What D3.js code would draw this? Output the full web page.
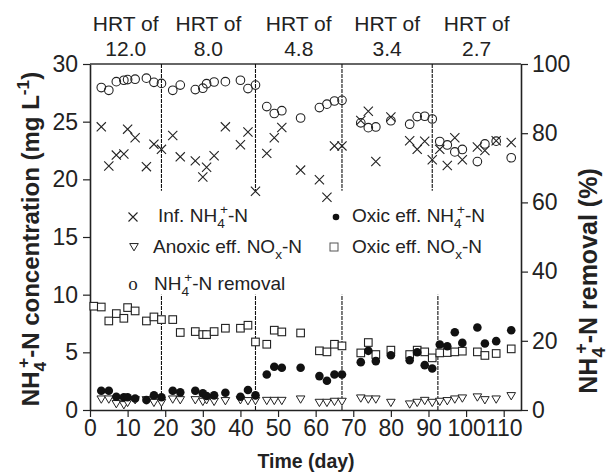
<!DOCTYPE html>
<html>
<head>
<meta charset="utf-8">
<script src="https://cdn.jsdelivr.net/npm/d3@7"></script>
<style>
  body { margin: 0; background: #fff; }
  svg { font-family: "Liberation Sans", Arial, sans-serif; }
  .axis path, .axis line { stroke: #222; }
  .axis text { fill: #222; }
</style>
</head>
<body>
<svg id="chart" width="608" height="473"></svg>
<script>
// sampling days (same for most series)
const days = [3, 5, 7, 9, 10, 12, 15, 17, 19, 22, 24, 28, 30, 31, 33, 36, 40, 42, 44,
  47, 49, 51, 56, 61, 63, 65, 67, 72, 74, 76, 80, 85, 87, 89, 91,
  93, 95, 97, 99, 103, 105, 108, 112];
const squareDays = [1].concat(days);

// left axis, mg/L
const infNH4 = [24.55, 21.15, 22.1, 22.2, 24.35, 23.6, 21.1, 23.05, 22.6, 23.8, 21.95, 21.6, 20.2, 21.05, 22.05, 24.55, 23.0, 24.1, 18.96,
  22.25, 23.6, 24.5, 20.8, 19.97, 18.45, 22.9, 22.9, 25.1, 25.9, 21.55, 25.4, 23.35, 22.6, 23.3, 21.7,
  22.6, 21.2, 23.6, 21.7, 22.8, 22.5, 23.35, 23.2];
const oxicNOx = [9.0, 8.93, 7.72, 8.36, 7.95, 8.88, 8.59, 7.72, 8.07, 7.84, 7.84, 6.72, 6.8, 6.54, 6.54, 6.8, 7.09, 7.09, 7.35, 5.9,
  5.7, 6.92, 6.77, 6.68, 5.13, 5.04, 5.7, 5.56, 4.95, 5.85, 4.81, 5.19, 4.81, 5.19, 5.04, 4.52,
  4.95, 4.98, 5.04, 5.1, 5.04, 4.73, 4.9, 5.3];
const oxicNH4 = [1.67, 1.67, 1.15, 1.1, 1.1, 1.0, 0.86, 1.27, 1.1, 1.67, 1.53, 1.67, 1.44, 1.21, 1.27, 1.5, 1.15, 1.73, 1.27,
  3.08, 3.75, 3.66, 3.66, 2.94, 2.53, 3.08, 3.08, 4.15, 5.13, 4.24, 4.75, 4.32, 5.01, 3.89, 3.6,
  5.68, 5.53, 6.74, 5.82, 7.15, 5.77, 5.97, 6.92];
const anoxicNOx = [0.92, 0.92, 0.52, 0.43, 0.63, 0.86, 0.86, 0.63, 0.63, 0.92, 0.86, 0.86, 0.72, 0.86, 0.72, 0.78, 0.86, 0.78, 0.8,
  0.8, 0.8, 0.8, 0.92, 0.63, 0.63, 0.72, 0.72, 1.01, 0.92, 0.92, 0.63, 0.49, 0.63, 0.8, 0.63,
  0.72, 0.78, 0.92, 1.01, 1.1, 0.86, 0.92, 1.21];
// right axis, %
const removal = [93.2, 92.4, 94.9, 95.3, 95.5, 95.6, 95.9, 94.7, 94.4, 92.4, 93.9, 92.6, 93.0, 94.3, 94.8, 94.9, 95.3, 92.9, 93.9,
  87.7, 85.7, 86.5, 84.4, 87.4, 88.4, 89.3, 89.5, 83.0, 81.6, 81.8, 83.6, 82.6, 84.8, 84.9, 84.1,
  77.6, 76.6, 74.6, 75.3, 71.8, 76.9, 77.7, 72.9];

// HRT phases
const hrtLabels = ["12.0", "8.0", "4.8", "3.4", "2.7"];
const upperBounds = [19, 44, 67, 91];   // dividers above the legend
const lowerBounds = [19, 44, 67, 92.5]; // dividers below the legend

const xTicks = d3.range(0, 111, 10);
const yTicks = [0, 5, 10, 15, 20, 25, 30];
const rTicks = [0, 20, 40, 60, 80, 100];

const svg = d3.select("#chart");
const mLeft = 90, mRight = 521, mTop = 64, mBottom = 410;

const x = d3.scaleLinear().domain([0, 114.6]).range([mLeft, mRight]);
const y = d3.scaleLinear().domain([0, 30]).range([mBottom, mTop]);
const yR = d3.scaleLinear().domain([0, 100]).range([mBottom, mTop]);

// axes
const tickFont = 23;
function styleAxis(g) {
  g.attr("class", "axis");
  g.selectAll("path").attr("stroke-width", 1.6);
  g.selectAll("line").attr("stroke-width", 1.2);
  g.selectAll("text").attr("font-size", tickFont);
}
svg.append("g")
  .attr("transform", `translate(0,${mBottom})`)
  .call(d3.axisBottom(x).tickValues(xTicks).tickSizeInner(7).tickSizeOuter(0).tickPadding(3))
  .call(styleAxis);
svg.append("g")
  .attr("transform", `translate(${mLeft},0)`)
  .call(d3.axisLeft(y).tickValues(yTicks).tickSizeInner(7).tickSizeOuter(0).tickPadding(5))
  .call(styleAxis);
svg.append("g")
  .attr("transform", `translate(${mRight},0)`)
  .call(d3.axisRight(yR).tickValues(rTicks).tickSizeInner(7).tickSizeOuter(0).tickPadding(4))
  .call(styleAxis);
svg.append("line")
  .attr("x1", mLeft).attr("x2", mRight).attr("y1", mTop).attr("y2", mTop)
  .attr("stroke", "#333").attr("stroke-width", 1.4);

// phase dividers
const divider = (xs, y0, y1) => svg.append("g").selectAll("line").data(xs).join("line")
  .attr("x1", d => x(d)).attr("x2", d => x(d))
  .attr("y1", y(y0)).attr("y2", y(y1))
  .attr("stroke", "#111").attr("stroke-width", 1.1).attr("stroke-dasharray", "4,1");
divider(upperBounds, 30, 19);
divider(lowerBounds, 0, 10);

// HRT headers
const edges = [0].concat(upperBounds, [114.6]);
const hdr = svg.append("g").attr("font-size", 21).attr("fill", "#222").attr("text-anchor", "middle");
hrtLabels.forEach((lab, i) => {
  const cx = x((edges[i] + edges[i + 1]) / 2);
  hdr.append("text").attr("x", cx).attr("y", 31).text("HRT of");
  hdr.append("text").attr("x", cx).attr("y", 56).text(lab);
});

// markers
const crossPath = s => `M${-s},${-s}L${s},${s}M${-s},${s}L${s},${-s}`;
const triPath = s => `M${-s},${-s * 0.8}L${s},${-s * 0.8}L0,${s * 0.9}Z`;

const plot = svg.append("g");
plot.selectAll(".sq").data(squareDays).join("rect")
  .attr("x", (d, i) => x(d) - 3.8).attr("y", (d, i) => y(oxicNOx[i]) - 3.8)
  .attr("width", 7.6).attr("height", 7.6)
  .attr("fill", "#fff").attr("stroke", "#222").attr("stroke-width", 1.1);
plot.selectAll(".tri").data(days).join("path")
  .attr("transform", (d, i) => `translate(${x(d)},${y(anoxicNOx[i])})`)
  .attr("d", triPath(4.3))
  .attr("fill", "#fff").attr("stroke", "#222").attr("stroke-width", 1);
plot.selectAll(".dot").data(days).join("circle")
  .attr("cx", d => x(d)).attr("cy", (d, i) => y(oxicNH4[i])).attr("r", 4.3)
  .attr("fill", "#111");
plot.selectAll(".inf").data(days).join("path")
  .attr("transform", (d, i) => `translate(${x(d)},${y(infNH4[i])})`)
  .attr("d", crossPath(4.6))
  .attr("fill", "none").attr("stroke", "#222").attr("stroke-width", 1.1);
plot.selectAll(".rem").data(days).join("circle")
  .attr("cx", d => x(d)).attr("cy", (d, i) => yR(removal[i])).attr("r", 4.3)
  .attr("fill", "none").attr("stroke", "#222").attr("stroke-width", 1.1);

// text with sub/superscripts
function rich(t, parts, fs) {
  let cur = 0;
  parts.forEach(([txt, kind, dx]) => {
    const off = kind === "sub" ? 0.3 * fs : kind === "sup" ? -0.42 * fs : 0;
    t.append("tspan")
      .attr("dy", off - cur)
      .attr("dx", dx || 0)
      .attr("font-size", kind === "n" ? fs : fs * 0.72)
      .text(txt);
    cur = off;
  });
}
const nh4 = fs => [["NH", "n"], ["4", "sub"], ["+", "sup", -0.25 * fs]];

// legend
const lg = svg.append("g").attr("fill", "#222");
const lfs = 19;
lg.append("path").attr("transform", "translate(133,217)").attr("d", crossPath(4.5))
  .attr("stroke", "#222").attr("stroke-width", 1.1).attr("fill", "none");
rich(lg.append("text").attr("x", 158).attr("y", 222), [["Inf. ", "n"]].concat(nh4(lfs), [["-N", "n"]]), lfs);
lg.append("circle").attr("cx", 336).attr("cy", 217).attr("r", 3.3).attr("fill", "#111");
rich(lg.append("text").attr("x", 352).attr("y", 222), [["Oxic eff. ", "n"]].concat(nh4(lfs), [["-N", "n"]]), lfs);
lg.append("path").attr("transform", "translate(134,247)").attr("d", triPath(4.3))
  .attr("stroke", "#222").attr("stroke-width", 1).attr("fill", "#fff");
rich(lg.append("text").attr("x", 153).attr("y", 253), [["Anoxic eff. NO", "n"], ["x", "sub"], ["-N", "n"]], lfs);
lg.append("rect").attr("x", 330).attr("y", 243).attr("width", 8).attr("height", 8)
  .attr("fill", "#fff").attr("stroke", "#555").attr("stroke-width", 1);
rich(lg.append("text").attr("x", 352).attr("y", 253), [["Oxic eff. NO", "n"], ["x", "sub"], ["-N", "n"]], lfs);
lg.append("text").attr("x", 133).attr("y", 290).attr("text-anchor", "middle")
  .attr("font-family", "'Liberation Serif', 'DejaVu Serif', serif").attr("font-size", 19).text("o");
rich(lg.append("text").attr("x", 154).attr("y", 290), nh4(lfs).concat([["-N removal", "n"]]), lfs);

// axis titles
svg.append("text").attr("x", 306).attr("y", 468).attr("text-anchor", "middle")
  .attr("font-weight", "bold").attr("font-size", 19.5).attr("fill", "#222").text("Time (day)");
const ylab = svg.append("text").attr("transform", `translate(39,239) rotate(-90)`)
  .attr("text-anchor", "middle").attr("font-weight", "bold").attr("fill", "#222");
rich(ylab, nh4(24).concat([["-N concentration (mg L", "n"], ["-1", "sup"], [")", "n"]]), 24);
const rlab = svg.append("text").attr("transform", `translate(597,281) rotate(-90)`)
  .attr("text-anchor", "middle").attr("font-weight", "bold").attr("fill", "#222");
rich(rlab, nh4(25).concat([["-N removal (%)", "n"]]), 25);
</script>
</body>
</html>
